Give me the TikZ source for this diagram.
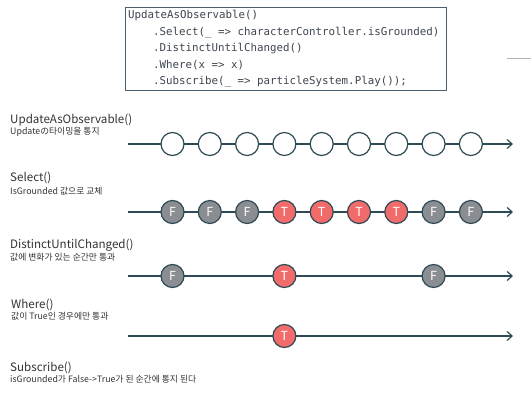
\documentclass[tikz,border=0pt]{standalone}
\usepackage{fontspec}
\setmainfont{Noto Sans CJK KR}
\setmonofont{DejaVu Sans Mono}
\usetikzlibrary{arrows.meta}
\definecolor{linec}{HTML}{2E4A55}
\definecolor{codec}{HTML}{3E464F}
\definecolor{boxc}{HTML}{4A6070}
\definecolor{grayf}{HTML}{8A8D91}
\definecolor{redf}{HTML}{F26B6B}
\definecolor{labc}{HTML}{333333}
\tikzset{
  flow/.style={draw=linec, line width=1.2pt, -{Straight Barb[length=5pt,width=9pt]}},
  ev/.style={circle, draw=linec, line width=1.2pt, minimum size=23pt, inner sep=0pt,
             font=\fontsize{12.5}{12.5}\selectfont, text=white},
  evo/.style={ev, fill=white},
  evf/.style={ev, fill=grayf},
  evt/.style={ev, fill=redf},
  title/.style={anchor=west, inner sep=0pt, text=labc, font=\fontsize{11.6}{11.6}\selectfont},
  sub/.style={anchor=west, inner sep=0pt, text=labc, font=\fontsize{8.8}{8.8}\selectfont},
  code/.style={anchor=west, inner sep=0pt, text=codec, font=\ttfamily\fontsize{10.8}{10.8}\selectfont},
}
\begin{document}
\begin{tikzpicture}[x=1pt,y=-1pt]
\useasboundingbox (0,0) rectangle (531,404);
\fill[white] (0,0) rectangle (531,404);
% code box
\node[draw=boxc, line width=0.9pt, minimum width=321pt, minimum height=83.5pt, inner sep=0pt, anchor=north west] (box) at (125,7) {};
\node[code] (c1) at (128,15.7) {UpdateAsObservable()};
\node[code] (c2) at (153,32.5) {.Select(\_ => characterController.isGrounded)};
\node[code] (c3) at (153,49) {.DistinctUntilChanged()};
\node[code] (c4) at (153,65.5) {.Where(x => x)};
\node[code] (c5) at (153,82) {.Subscribe(\_ => particleSystem.Play());};
% small gray mark top right
\coordinate (g1) at (507,58);
\coordinate (g2) at (531,58);
\draw[gray!60, line width=0.8pt] (g1) -- (g2);
% labels
\node[title] (t1) at (10,120) {UpdateAsObservable()};
\node[sub] (s1l) at (10,131.5) {Updateの타이밍을 통지};
\node[title] (t2) at (10,177.5) {Select()};
\node[sub] (s2l) at (10,191) {IsGrounded 값으로 교체};
\node[title] (t3) at (10,245) {DistinctUntilChanged()};
\node[sub] (s3l) at (10,257) {값에 변화가 있는 순간만 통과};
\node[title] (t4) at (11,304.5) {Where()};
\node[sub] (s4l) at (11,316.5) {값이 True인 경우에만 통과};
\node[title] (t5) at (10,367.5) {Subscribe()};
\node[sub] (s5l) at (10,379.5) {isGrounded가 False->True가 된 순간에 통지 된다};
% timelines
\foreach \r/\y in {1/144,2/212,3/276,4/336}{
  \coordinate (a\r) at (128,\y);
  \coordinate (b\r) at (513,\y);
  \draw[flow] (a\r) -- (b\r);
}
% row 1
\foreach \i in {0,...,8}{
  \node[evo] (r1e\i) at ({172.5+37.3*\i},144) {};
}
% row 2
\foreach \i in {0,1,2,7,8}{
  \node[evf] (r2e\i) at ({172.5+37.3*\i},212) {F};
}
\foreach \i in {3,4,5,6}{
  \node[evt] (r2e\i) at ({172.5+37.3*\i},212) {T};
}
% row 3
\node[evf] (r3e0) at (172.5,276) {F};
\node[evt] (r3e3) at ({172.5+37.3*3},276) {T};
\node[evf] (r3e7) at ({172.5+37.3*7},276) {F};
% row 4
\node[evt] (r4e3) at ({172.5+37.3*3},336) {T};
\end{tikzpicture}
\end{document}
